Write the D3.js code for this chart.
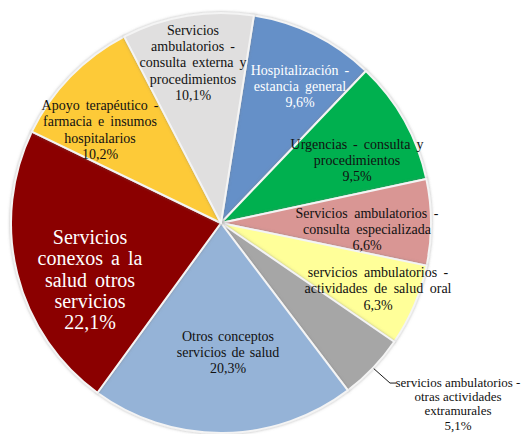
<!DOCTYPE html>
<html>
<head>
<meta charset="utf-8">
<script src="https://cdn.jsdelivr.net/npm/d3@7/dist/d3.min.js"></script>
</head>
<body style="margin:0">
<svg id="chart" width="522" height="434"></svg>
<script>
// ---- data (clockwise, starting at Hospitalización) ----
const categories = [
  "Hospitalización - estancia general",
  "Urgencias - consulta y procedimientos",
  "Servicios ambulatorios - consulta especializada",
  "servicios ambulatorios - actividades de salud oral",
  "servicios ambulatorios - otras actividades extramurales",
  "Otros conceptos servicios de salud",
  "Servicios conexos a la salud otros servicios",
  "Apoyo terapéutico - farmacia e insumos hospitalarios",
  "Servicios ambulatorios - consulta externa y procedimientos"
];
const values = [9.6, 9.5, 6.6, 6.3, 5.1, 20.3, 22.1, 10.2, 10.1];
const valueLabels = ["9,6%", "9,5%", "6,6%", "6,3%", "5,1%", "20,3%", "22,1%", "10,2%", "10,1%"];
const labelLines = [
  ["Hospitalización -", "estancia general"],
  ["Urgencias - consulta y", "procedimientos"],
  ["Servicios ambulatorios -", "consulta especializada"],
  ["servicios ambulatorios -", "actividades de salud oral"],
  ["servicios ambulatorios -", "otras actividades", "extramurales"],
  ["Otros conceptos", "servicios de salud"],
  ["Servicios", "conexos a la", "salud otros", "servicios"],
  ["Apoyo terapéutico -", "farmacia e insumos", "hospitalarios"],
  ["Servicios", "ambulatorios -", "consulta externa y", "procedimientos"]
];

// ---- styling / layout (separate from data) ----
const FONT = "Liberation Serif";
const colors = ["#6590c8", "#00b050", "#d99694", "#ffff99", "#a6a6a6", "#95b3d7", "#8b0000", "#fdca37", "#e0dfdf"];
const textColors = ["#ffffff", "#111111", "#111111", "#111111", "#111111", "#111111", "#ffffff", "#111111", "#111111"];
const fontSizes = [14, 14, 14, 14, 13, 14, 20, 14, 14];
const wordSpacing = [2.5, 2.5, 3, 3, 0, 1.5, 3, 2.5, 2.5];
const lineHeights = [16.3, 16, 16, 16.5, 14.3, 16, 21.2, 16.3, 16.2];
// label block centre, relative to pie centre
const labelOffsets = [[79, -137], [136, -63], [146, 6], [157, 65.5], [237, 180.5], [7, 129], [-131, 56.5], [-121, -93.5], [-28, -160.5]];
const outsideLabel = [false, false, false, false, true, false, false, false, false];

const cx = 221, cy = 223, R = 210;
const startDeg = 9;

const svg = d3.select("#chart");
const defs = svg.append("defs");
const f = defs.append("filter").attr("id", "sh").attr("x", "-10%").attr("y", "-10%").attr("width", "120%").attr("height", "120%");
f.append("feDropShadow").attr("dx", 0).attr("dy", 0).attr("stdDeviation", 1.6)
  .attr("flood-color", "#7a7a7a").attr("flood-opacity", 0.55);

const g = svg.append("g").attr("transform", `translate(${cx},${cy})`);

const pie = d3.pie().sort(null).value(d => d)
  .startAngle(startDeg * Math.PI / 180)
  .endAngle(startDeg * Math.PI / 180 + 2 * Math.PI);
const arcs = pie(values);
const arc = d3.arc().innerRadius(0).outerRadius(R);

g.selectAll("path.slice").data(arcs).enter().append("path")
  .attr("class", "slice")
  .attr("d", arc)
  .attr("fill", (d, i) => colors[i])
  .attr("stroke", "#f4f4f4")
  .attr("stroke-width", 2)
  .attr("stroke-linejoin", "round")
  .attr("filter", "url(#sh)");

// leader line for outside label
arcs.forEach((d, i) => {
  if (!outsideLabel[i]) return;
  const a = (d.startAngle + d.endAngle) / 2;
  const p0 = [Math.sin(a) * (R + 1), -Math.cos(a) * (R + 1)];
  const [ox, oy] = labelOffsets[i];
  const n = labelLines[i].length + 1;
  const firstY = oy - (n - 1) / 2 * lineHeights[i];
  const p1 = [ox - 68, firstY + 1];
  const p2 = [ox - 62, firstY + 1];
  g.append("path")
    .attr("d", d3.line()([p0, p1, p2]))
    .attr("fill", "none").attr("stroke", "#000").attr("stroke-width", 0.9);
});

// labels: one text element per line, directly on the svg root
arcs.forEach((d, i) => {
  const lines = labelLines[i].concat([valueLabels[i]]);
  const [ox, oy] = labelOffsets[i];
  const lh = lineHeights[i];
  lines.forEach((ln, k) => {
    svg.append("text")
      .attr("x", cx + ox)
      .attr("y", cy + oy + (k - (lines.length - 1) / 2) * lh + fontSizes[i] * 0.35)
      .attr("text-anchor", "middle")
      .attr("font-family", FONT)
      .style("font-family", "'Liberation Serif', Tinos, 'Times New Roman', serif")
      .attr("font-size", fontSizes[i])
      .attr("word-spacing", wordSpacing[i])
      .attr("fill", textColors[i])
      .text(ln);
  });
});
</script>
</body>
</html>
